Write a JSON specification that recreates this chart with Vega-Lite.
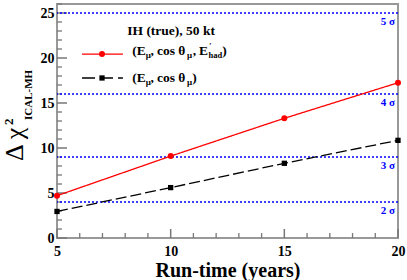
{
  "$schema": "https://vega.github.io/schema/vega-lite/v6.json",
  "width": 341,
  "height": 234,
  "autosize": {"type": "none"},
  "padding": {"left": 57, "top": 4, "right": 9, "bottom": 42},
  "background": "white",
  "config": {
    "view": {"stroke": "#999999", "strokeWidth": 2},
    "text": {"font": "Liberation Serif"}
  },
  "datasets": {
    "series": [
      {"time": 5, "chi2": 4.7, "series": "full"},
      {"time": 10, "chi2": 9.1, "series": "full"},
      {"time": 15, "chi2": 13.3, "series": "full"},
      {"time": 20, "chi2": 17.25, "series": "full"},
      {"time": 5, "chi2": 2.95, "series": "muon"},
      {"time": 10, "chi2": 5.6, "series": "muon"},
      {"time": 15, "chi2": 8.3, "series": "muon"},
      {"time": 20, "chi2": 10.85, "series": "muon"}
    ],
    "sigma": [
      {"value": 4, "label": "2 σ"},
      {"value": 9, "label": "3 σ"},
      {"value": 16, "label": "4 σ"},
      {"value": 25, "label": "5 σ"}
    ],
    "xMajor": [{"t": 5}, {"t": 10}, {"t": 15}, {"t": 20}],
    "xMinor": [{"t": 6}, {"t": 7}, {"t": 8}, {"t": 9}, {"t": 11}, {"t": 12}, {"t": 13}, {"t": 14}, {"t": 16}, {"t": 17}, {"t": 18}, {"t": 19}],
    "yMajor": [{"t": 0}, {"t": 5}, {"t": 10}, {"t": 15}, {"t": 20}, {"t": 25}],
    "yMinor": [{"t": 1}, {"t": 2}, {"t": 3}, {"t": 4}, {"t": 6}, {"t": 7}, {"t": 8}, {"t": 9}, {"t": 11}, {"t": 12}, {"t": 13}, {"t": 14}, {"t": 16}, {"t": 17}, {"t": 18}, {"t": 19}, {"t": 21}, {"t": 22}, {"t": 23}, {"t": 24}, {"t": 26}],
    "note": [{"note": "annotation"}]
  },
  "data": {"name": "note"},
  "layer": [
    {
      "data": {"name": "xMajor"},
      "mark": {"type": "rule", "color": "#777777", "strokeWidth": 1.5},
      "encoding": {
        "x": {"field": "t", "type": "quantitative", "scale": {"domain": [5, 20], "nice": false, "zero": false}},
        "y": {"datum": 0, "scale": {"domain": [0, 26], "nice": false, "zero": false}},
        "y2": {"datum": 1.0}
      }
    },
    {
      "data": {"name": "xMinor"},
      "mark": {"type": "rule", "color": "#777777", "strokeWidth": 1.3},
      "encoding": {
        "x": {"field": "t", "type": "quantitative"},
        "y": {"datum": 0},
        "y2": {"datum": 0.55}
      }
    },
    {
      "data": {"name": "yMajor"},
      "mark": {"type": "rule", "color": "#777777", "strokeWidth": 1.5},
      "encoding": {
        "y": {"field": "t", "type": "quantitative"},
        "x": {"datum": 5},
        "x2": {"datum": 5.44}
      }
    },
    {
      "data": {"name": "yMinor"},
      "mark": {"type": "rule", "color": "#777777", "strokeWidth": 1.3},
      "encoding": {
        "y": {"field": "t", "type": "quantitative"},
        "x": {"datum": 5},
        "x2": {"datum": 5.22}
      }
    },
    {
      "data": {"name": "sigma"},
      "mark": {"type": "rule", "color": "#0000ff", "strokeWidth": 1.5, "strokeDash": [2, 2]},
      "encoding": {
        "y": {"field": "value", "type": "quantitative"}
      }
    },
    {
      "data": {"name": "sigma"},
      "mark": {"type": "text", "color": "#0000ff", "align": "right", "baseline": "middle", "dy": 9, "fontSize": 11, "fontWeight": "bold", "font": "Liberation Serif"},
      "encoding": {
        "x": {"datum": 19.87},
        "y": {"field": "value", "type": "quantitative"},
        "text": {"field": "label"}
      }
    },
    {
      "data": {"name": "series"},
      "mark": {"type": "line", "strokeWidth": 1.3},
      "encoding": {
        "x": {
          "field": "time", "type": "quantitative",
          "axis": {
            "orient": "bottom", "values": [5, 10, 15, 20], "format": "d", "grid": false, "domain": false,
            "ticks": false, "labelPadding": 6, "labelFlush": false,
            "labelFont": "Liberation Serif", "labelFontWeight": "bold", "labelFontSize": 14, "labelColor": "black",
            "title": "Run-time (years)", "titleFont": "Liberation Serif", "titleFontWeight": "bold", "titleFontSize": 20,
            "titleColor": "black", "titleY": 38, "titleBaseline": "alphabetic"
          }
        },
        "y": {
          "field": "chi2", "type": "quantitative",
          "axis": {
            "orient": "left", "values": [0, 5, 10, 15, 20, 25], "format": "d", "grid": false, "domain": false,
            "ticks": false, "labelPadding": 3, "labelFlush": false,
            "labelFont": "Liberation Serif", "labelFontWeight": "bold", "labelFontSize": 14, "labelColor": "black",
            "title": null, "titleOpacity": 0
          }
        },
        "color": {"field": "series", "type": "nominal", "scale": {"domain": ["full", "muon"], "range": ["#ff0000", "#000000"]}, "legend": null},
        "strokeDash": {"field": "series", "type": "nominal", "scale": {"domain": ["full", "muon"], "range": [[1, 0], [11, 4]]}, "legend": null}
      }
    },
    {
      "data": {"name": "series"},
      "mark": {"type": "point", "filled": true, "opacity": 1},
      "encoding": {
        "x": {"field": "time", "type": "quantitative"},
        "y": {"field": "chi2", "type": "quantitative"},
        "color": {"field": "series", "type": "nominal", "scale": {"domain": ["full", "muon"], "range": ["#ff0000", "#000000"]}, "legend": null},
        "shape": {"field": "series", "type": "nominal", "scale": {"domain": ["full", "muon"], "range": ["circle", "square"]}, "legend": null},
        "size": {"field": "series", "type": "nominal", "scale": {"domain": ["full", "muon"], "range": [36, 28]}, "legend": null}
      }
    },
    {
      "mark": {"type": "rule", "color": "#ff0000", "strokeWidth": 1.3},
      "encoding": {"x": {"datum": 6.1}, "x2": {"datum": 7.9}, "y": {"datum": 20.44}}
    },
    {
      "mark": {"type": "rule", "color": "#000000", "strokeWidth": 1.3, "strokeDash": [13, 5]},
      "encoding": {"x": {"datum": 6.1}, "x2": {"datum": 7.9}, "y": {"datum": 17.78}}
    },
    {
      "mark": {"type": "point", "shape": "circle", "filled": true, "color": "#ff0000", "size": 36, "opacity": 1},
      "encoding": {"x": {"datum": 6.98}, "y": {"datum": 20.44}}
    },
    {
      "mark": {"type": "point", "shape": "square", "filled": true, "color": "#000000", "size": 28, "opacity": 1},
      "encoding": {"x": {"datum": 6.98}, "y": {"datum": 17.78}}
    },
    {
      "mark": {"type": "text", "align": "left", "baseline": "alphabetic", "fontSize": 13.5, "fontWeight": "bold", "text": "IH (true), 50 kt"},
      "encoding": {"x": {"datum": 8.09}, "y": {"datum": 22.56}}
    },
    {
      "mark": {"type": "text", "align": "left", "baseline": "alphabetic", "fontSize": 13.5, "fontWeight": "bold", "text": "(E"},
      "encoding": {"x": {"datum": 8.31}, "y": {"datum": 20.33}}
    },
    {
      "mark": {"type": "text", "align": "left", "baseline": "alphabetic", "fontSize": 9, "fontWeight": "bold", "dy": 2.5, "text": "μ"},
      "encoding": {"x": {"datum": 8.90}, "y": {"datum": 20.33}}
    },
    {
      "mark": {"type": "text", "align": "left", "baseline": "alphabetic", "fontSize": 13.5, "fontWeight": "bold", "text": ","},
      "encoding": {"x": {"datum": 9.11}, "y": {"datum": 20.33}}
    },
    {
      "mark": {"type": "text", "align": "left", "baseline": "alphabetic", "fontSize": 13.5, "fontWeight": "bold", "text": "cos"},
      "encoding": {"x": {"datum": 9.4}, "y": {"datum": 20.33}}
    },
    {
      "mark": {"type": "text", "align": "left", "baseline": "alphabetic", "fontSize": 13.5, "fontWeight": "bold", "text": "θ"},
      "encoding": {"x": {"datum": 10.33}, "y": {"datum": 20.33}}
    },
    {
      "mark": {"type": "text", "align": "left", "baseline": "alphabetic", "fontSize": 9, "fontWeight": "bold", "dy": 2.5, "text": "μ"},
      "encoding": {"x": {"datum": 10.72}, "y": {"datum": 20.33}}
    },
    {
      "mark": {"type": "text", "align": "left", "baseline": "alphabetic", "fontSize": 13.5, "fontWeight": "bold", "text": ","},
      "encoding": {"x": {"datum": 10.97}, "y": {"datum": 20.33}}
    },
    {
      "mark": {"type": "text", "align": "left", "baseline": "alphabetic", "fontSize": 13.5, "fontWeight": "bold", "text": "E"},
      "encoding": {"x": {"datum": 11.25}, "y": {"datum": 20.33}}
    },
    {
      "mark": {"type": "text", "align": "left", "baseline": "alphabetic", "fontSize": 8, "fontWeight": "bold", "dy": -6, "text": "′"},
      "encoding": {"x": {"datum": 11.7}, "y": {"datum": 20.33}}
    },
    {
      "mark": {"type": "text", "align": "left", "baseline": "alphabetic", "fontSize": 8.5, "fontWeight": "bold", "dy": 2.5, "text": "had"},
      "encoding": {"x": {"datum": 11.66}, "y": {"datum": 20.33}}
    },
    {
      "mark": {"type": "text", "align": "left", "baseline": "alphabetic", "fontSize": 13.5, "fontWeight": "bold", "text": ")"},
      "encoding": {"x": {"datum": 12.27}, "y": {"datum": 20.33}}
    },
    {
      "mark": {"type": "text", "align": "left", "baseline": "alphabetic", "fontSize": 13.5, "fontWeight": "bold", "text": "(E"},
      "encoding": {"x": {"datum": 8.31}, "y": {"datum": 17.3}}
    },
    {
      "mark": {"type": "text", "align": "left", "baseline": "alphabetic", "fontSize": 9, "fontWeight": "bold", "dy": 2.5, "text": "μ"},
      "encoding": {"x": {"datum": 8.90}, "y": {"datum": 17.3}}
    },
    {
      "mark": {"type": "text", "align": "left", "baseline": "alphabetic", "fontSize": 13.5, "fontWeight": "bold", "text": ","},
      "encoding": {"x": {"datum": 9.11}, "y": {"datum": 17.3}}
    },
    {
      "mark": {"type": "text", "align": "left", "baseline": "alphabetic", "fontSize": 13.5, "fontWeight": "bold", "text": "cos"},
      "encoding": {"x": {"datum": 9.4}, "y": {"datum": 17.3}}
    },
    {
      "mark": {"type": "text", "align": "left", "baseline": "alphabetic", "fontSize": 13.5, "fontWeight": "bold", "text": "θ"},
      "encoding": {"x": {"datum": 10.33}, "y": {"datum": 17.3}}
    },
    {
      "mark": {"type": "text", "align": "left", "baseline": "alphabetic", "fontSize": 9, "fontWeight": "bold", "dy": 2.5, "text": "μ"},
      "encoding": {"x": {"datum": 10.72}, "y": {"datum": 17.3}}
    },
    {
      "mark": {"type": "text", "align": "left", "baseline": "alphabetic", "fontSize": 13.5, "fontWeight": "bold", "text": ")"},
      "encoding": {"x": {"datum": 10.95}, "y": {"datum": 17.3}}
    },
    {
      "mark": {"type": "text", "align": "left", "baseline": "alphabetic", "angle": 270, "fontSize": 26, "text": "Δ χ"},
      "encoding": {"x": {"datum": 3.5}, "y": {"datum": 8.55}}
    },
    {
      "mark": {"type": "text", "align": "left", "baseline": "alphabetic", "angle": 270, "fontSize": 13, "fontWeight": "bold", "text": "2"},
      "encoding": {"x": {"datum": 3.06}, "y": {"datum": 12.56}}
    },
    {
      "mark": {"type": "text", "align": "left", "baseline": "alphabetic", "angle": 270, "fontSize": 11, "fontWeight": "bold", "text": "ICAL-MH"},
      "encoding": {"x": {"datum": 3.9}, "y": {"datum": 13.11}}
    }
  ]
}
